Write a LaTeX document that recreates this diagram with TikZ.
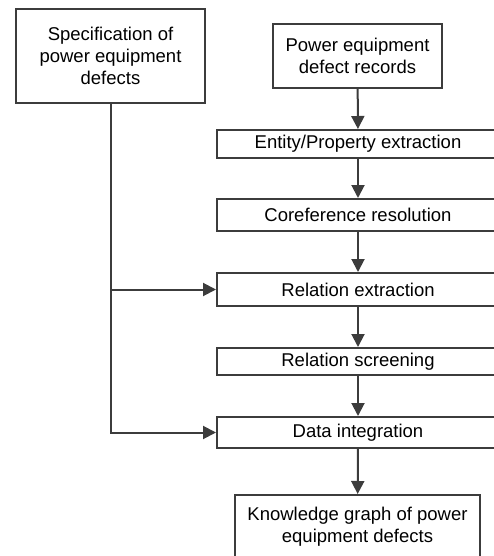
\documentclass[tikz,border=0pt]{standalone}
\usepackage{fontspec}
\setmainfont{Liberation Sans}
\usepackage{tikz}
\usetikzlibrary{arrows.meta}

\definecolor{linegray}{HTML}{3C3C3C}

\begin{document}
\begin{tikzpicture}[
    x=1pt,y=-1pt,
    box/.style={draw=linegray, line width=2pt, inner sep=0pt, align=center,
      font=\fontsize{18.5}{22}\selectfont},
    flow/.style={draw=linegray, line width=2pt, -{Triangle[length=13pt,width=13pt]}}
    ]
    \useasboundingbox (0, 0) rectangle (494, 556);
    \node[box, minimum width=189, minimum height=94] (spec) at (110.5, 56)
      {Specification of\\power equipment\\defects};
    \node[box, minimum width=169, minimum height=64] (records) at (357.5, 56)
      {Power equipment\\defect records};
    \node[box, minimum width=282, minimum height=28] (entity) at (358, 144)
      {Entity/Property extraction};
    \node[box, minimum width=282, minimum height=32] (coref) at (358, 215)
      {Coreference resolution};
    \node[box, minimum width=282, minimum height=33] (relext) at (358, 289.5)
      {Relation extraction};
    \node[box, minimum width=282, minimum height=27] (relscr) at (358, 361.5)
      {Relation screening};
    \node[box, minimum width=282, minimum height=31] (integ) at (358, 432.5)
      {Data integration};
    \node[box, minimum width=245, minimum height=64] (kg) at (357.5, 527)
      {Knowledge graph of power\\equipment defects};
    \draw[flow] (records) -- (entity);
    \draw[flow] (entity) -- (coref);
    \draw[flow] (coref) -- (relext);
    \draw[flow] (relext) -- (relscr);
    \draw[flow] (relscr) -- (integ);
    \draw[flow] (integ) -- (kg);
    \draw[flow] (spec.south) |- (integ.west);
    \draw[flow] (spec.south |- relext.west) -- (relext.west);
  \end{tikzpicture}
\end{document}
